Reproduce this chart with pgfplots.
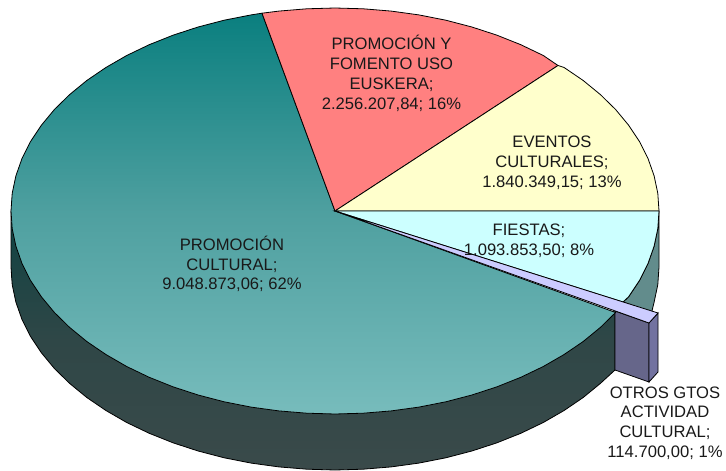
\documentclass[border=0pt]{standalone}
\usepackage{fontspec}
\setmainfont{Liberation Sans}
\usepackage{pgfplots}
\pgfplotsset{compat=1.18}
\definecolor{tealtop}{HTML}{0A7F7F}
\definecolor{tealmid}{HTML}{4FA0A0}
\definecolor{tealbot}{HTML}{77BCBC}
\definecolor{sidetop}{HTML}{0F4242}
\definecolor{sidemid}{HTML}{2F4747}
\definecolor{sidebot}{HTML}{3A4A4A}
\definecolor{redw}{HTML}{FF8080}
\definecolor{yellw}{HTML}{FFFFCC}
\definecolor{cyanw}{HTML}{CCFFFF}
\definecolor{cyanside}{HTML}{628C8C}
\definecolor{lilac}{HTML}{CCCCFF}
\definecolor{lilacf}{HTML}{66668A}
\definecolor{lilacr}{HTML}{7272A0}
\tikzset{lab/.style={font=\fontsize{16.6}{19.8}\selectfont, align=center, text=black!90, inner sep=0pt}}
\begin{document}
\begin{tikzpicture}
\begin{axis}[
    scale only axis, width=726pt, height=470pt,
    xmin=0, xmax=726, ymin=0, ymax=470, y dir=reverse,
    hide axis, clip=false,
]
\addplot[draw=none] coordinates {(0,0) (726,470)};
% side walls
\addplot[fill=cyanside, draw=black, line width=0.8pt] coordinates {
 (659,211) (659,267) (657.8,284.7) (654.1,302.2) (651.5,313) (623,302) (628.6,296.8) (639.5,280.4) (648,263.5) (654.1,246.2) (657.8,228.7)} -- cycle;
\addplot[shade, top color=sidetop, bottom color=sidebot, middle color=sidemid, draw=black, line width=0.8pt] coordinates {
 (11,211) (11,267) (12.2,284.7) (15.9,302.2) (22,319.5) (30.5,336.4) (41.4,352.8) (54.4,368.5) (69.6,383.4)
 (86.8,397.5) (105.9,410.5) (126.7,422.5) (149.2,433.3) (173,442.8) (198.1,451) (224.2,457.8) (251.1,463.1)
 (278.8,466.9) (306.8,469.2) (335,470) (363.2,469.2) (391.2,466.9) (418.9,463.1) (445.8,457.8) (471.9,451)
 (497,442.8) (520.8,433.3) (543.3,422.5) (564.1,410.5) (583.2,397.5) (600.4,383.4) (615,370) (615,312)} -- cycle;
\addplot[fill=lilacf, draw=black, line width=0.8pt] coordinates {(615,311) (649,323) (649,382) (615,370)} -- cycle;
\addplot[fill=lilacr, draw=black, line width=0.8pt] coordinates {(649,323) (658,313) (658,372) (649,382)} -- cycle;
% top wedges
\addplot[shade, top color=tealtop, bottom color=tealbot, middle color=tealmid, draw=black, line width=0.8pt] coordinates {
 (335,211) (615.6,312.5) (600.4,327.4) (583.2,341.5) (564.1,354.5) (543.3,366.5) (520.8,377.3) (497,386.8)
 (471.9,395) (445.8,401.8) (418.9,407.1) (391.2,410.9) (363.2,413.2) (335,414) (306.8,413.2) (278.8,410.9)
 (251.1,407.1) (224.2,401.8) (198.1,395) (173,386.8) (149.2,377.3) (126.7,366.5) (105.9,354.5) (86.8,341.5)
 (69.6,327.4) (54.4,312.5) (41.4,296.8) (30.5,280.4) (22,263.5) (15.9,246.2) (12.2,228.7) (11,211) (12.2,193.3)
 (15.9,175.8) (22,158.5) (30.5,141.6) (41.4,125.2) (54.4,109.5) (69.6,94.6) (86.8,80.5) (105.9,67.5) (126.7,55.5)
 (149.2,44.7) (173,35.2) (198.1,27) (224.2,20.2) (251.1,14.9) (262,13.2)} -- cycle;
\addplot[fill=redw, draw=black, line width=0.8pt] coordinates {
 (335,211) (262,13.2) (278.8,11.1) (306.8,8.8) (335,8) (363.2,8.8) (391.2,11.1) (418.9,14.9) (445.8,20.2)
 (471.9,27) (497,35.2) (520.8,44.7) (543.3,55.5) (558,65.5)} -- cycle;
\addplot[fill=yellw, draw=black, line width=0.8pt] coordinates {
 (335,211) (558,65.5) (564.1,67.5) (583.2,80.5) (600.4,94.6) (615.6,109.5) (628.6,125.2) (639.5,141.6)
 (648,158.5) (654.1,175.8) (657.8,193.3) (659,211)} -- cycle;
\addplot[fill=cyanw, draw=black, line width=0.8pt] coordinates {
 (335,211) (659,211) (657.8,228.7) (654.1,246.2) (648,263.5) (639.5,280.4) (628.6,296.8) (623,302)} -- cycle;
\addplot[fill=lilac, draw=black, line width=0.8pt] coordinates {(335,211) (658,313) (649,323)} -- cycle;
% labels
\node[lab] at (axis cs:232,264) {PROMOCIÓN\\CULTURAL;\\9.048.873,06; 62\%};
\node[lab] at (axis cs:391.5,73.5) {PROMOCIÓN Y\\FOMENTO USO\\EUSKERA;\\2.256.207,84; 16\%};
\node[lab] at (axis cs:552,163) {EVENTOS\\CULTURALES;\\1.840.349,15; 13\%};
\node[lab] at (axis cs:529,240.5) {FIESTAS;\\1.093.853,50; 8\%};
\node[lab] at (axis cs:665,423) {OTROS GTOS\\ACTIVIDAD\\CULTURAL;\\114.700,00; 1\%};
\end{axis}
\end{tikzpicture}
\end{document}
